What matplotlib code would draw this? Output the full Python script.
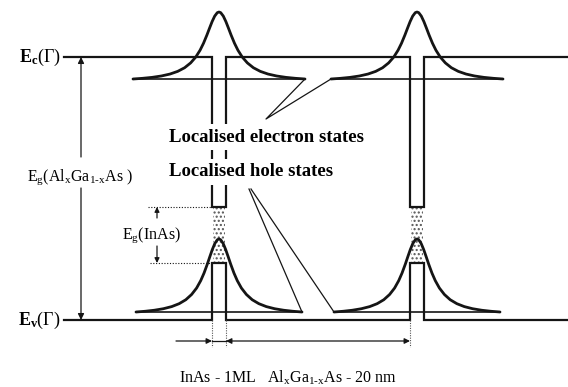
import matplotlib
matplotlib.use('Agg')
import matplotlib.pyplot as plt
from matplotlib.patches import Rectangle

plt.rcParams['mathtext.fontset'] = 'custom'
plt.rcParams['mathtext.rm'] = 'Liberation Serif'
plt.rcParams['mathtext.it'] = 'Liberation Serif:italic'
plt.rcParams['mathtext.bf'] = 'Liberation Serif:bold'
plt.rcParams['hatch.linewidth'] = 1.0

# ---- schematic values (drawing units = picture pixels) ----
well_left = [212, 410]          # InAs monolayer wells (left edges)
well_width = 14
band_x_range = [64, 568]
Ec_level = 57                   # conduction band edge E_c(Gamma)
Ev_level = 320                  # valence band edge E_v(Gamma)
cb_well_bottom = 207            # InAs conduction band in the well
vb_well_top = 263               # InAs valence band in the well
e_level, e_peak, e_half = 79, 12, 86    # localised electron states
h_level, h_peak, h_half = 312, 239, 83  # localised hole states
# half profile of the localisation peaks (offset fraction, height fraction)
profile_u = [0, .02, .05, .08, .11, .14, .18, .22, .27, .33, .40, .48, .57, .67, .78, .89, 1.0]
profile_f = [1, .99, .939, .857, .759, .658, .534, .43, .328, .24, .168, .114, .074, .045, .024, .01, 0]

INK = '#151515'
fig = plt.figure(figsize=(5.68, 3.87), dpi=100)
ax = fig.add_axes([0, 0, 1, 1])
ax.set_xlim(0, 568)
ax.set_ylim(387, 0)
ax.axis('off')

# ---- band edges ----
cx, cy, vx, vy = [band_x_range[0]], [Ec_level], [band_x_range[0]], [Ev_level]
for wl in well_left:
    wr = wl + well_width
    cx += [wl, wl, wr, wr]
    cy += [Ec_level, cb_well_bottom, cb_well_bottom, Ec_level]
    vx += [wl, wl, wr, wr]
    vy += [Ev_level, vb_well_top, vb_well_top, Ev_level]
cx.append(band_x_range[1]); cy.append(Ec_level)
vx.append(band_x_range[1]); vy.append(Ev_level)
ax.plot(cx, cy, color=INK, lw=1.6, zorder=2, solid_joinstyle='miter')
ax.plot(vx, vy, color=INK, lw=1.6, zorder=2, solid_joinstyle='miter')

# stippled InAs gap
for wl in well_left:
    ax.add_patch(Rectangle((wl + 1, cb_well_bottom + 1), well_width - 2, vb_well_top - cb_well_bottom - 2,
                           facecolor='none', edgecolor='#555555', linewidth=0, hatch='....', zorder=1))

# ---- localisation peaks and levels ----
def peak(center, level, top, half):
    xs = [center - u * half for u in profile_u[::-1]] + [center + u * half for u in profile_u[1:]]
    fs = profile_f[::-1] + profile_f[1:]
    ys = [level - f * (level - top) for f in fs]
    return xs, ys

for wl in well_left:
    c = wl + well_width / 2
    for lev, top, half in [(e_level, e_peak, e_half), (h_level, h_peak, h_half)]:
        xs, ys = peak(c, lev, top, half)
        ax.plot(xs, ys, color=INK, lw=2.0, zorder=4, solid_capstyle='round')
        ax.plot([c - half, c + half], [lev, lev], color=INK, lw=1.2, zorder=3)

c0 = well_left[0] + well_width / 2
c1 = well_left[1] + well_width / 2
# electron callout
ax.plot([c0 + e_half, 266, c1 - e_half], [e_level, 119, e_level], color=INK, lw=0.9, zorder=6)
# hole callout
ax.plot([c0 + h_half, 249], [h_level, 189], color=INK, lw=0.9, zorder=6)
ax.plot([c1 - h_half, 251], [h_level, 189], color=INK, lw=0.9, zorder=6)

# ---- texts ----
bb = dict(facecolor='white', edgecolor='none', pad=3)
ax.text(169, 137, 'Localised electron states', family='Liberation Serif', weight='bold',
        fontsize=13.5, ha='left', va='center', bbox=bb, zorder=5)
ax.text(169, 172, 'Localised hole states', family='Liberation Serif', weight='bold',
        fontsize=13.5, ha='left', va='center', bbox=bb, zorder=5)

ax.text(61, Ec_level, r'$\mathbf{E_c}(\Gamma)$', fontsize=13, ha='right', va='center')
ax.text(61, Ev_level, r'$\mathbf{E_v}(\Gamma)$', fontsize=13, ha='right', va='center')

ax.text(80, 177, r'E$_\mathrm{g}$(Al$_\mathrm{x}$Ga$_\mathrm{1\text{-}x}$As )', family='Liberation Serif',
        fontsize=11.5, ha='center', va='center')
ax.text(151, 235, r'E$_\mathrm{g}$(InAs)', family='Liberation Serif', fontsize=11.5,
        ha='center', va='center')
ax.text(288, 378, r'InAs - 1ML   Al$_\mathrm{x}$Ga$_\mathrm{1\text{-}x}$As - 20 nm',
        family='Liberation Serif', fontsize=11.5, ha='center', va='center')

# ---- arrows ----
ap = dict(arrowstyle='-|>', color=INK, lw=0.9, mutation_scale=9, shrinkA=0, shrinkB=0)
ax.annotate('', xy=(81, Ec_level), xytext=(81, 157), arrowprops=ap)
ax.annotate('', xy=(81, Ev_level), xytext=(81, 188), arrowprops=ap)
ax.annotate('', xy=(157, cb_well_bottom), xytext=(157, 218), arrowprops=dict(ap, mutation_scale=7))
ax.annotate('', xy=(157, vb_well_top), xytext=(157, 246), arrowprops=dict(ap, mutation_scale=7))

# dotted guides for E_g(InAs)
ax.plot([148, well_left[0]], [cb_well_bottom, cb_well_bottom], color=INK, lw=0.8, ls=(0, (1, 1.5)))
ax.plot([150, well_left[0]], [vb_well_top, vb_well_top], color=INK, lw=0.8, ls=(0, (1, 1.5)))

# thickness markers
dim_y = 341
for xg in [well_left[0], well_left[0] + well_width, well_left[1]]:
    ax.plot([xg, xg], [Ev_level, 347], color='#555555', lw=0.8, ls=(0, (1, 1.2)))
ax.annotate('', xy=(well_left[0], dim_y), xytext=(176, dim_y), arrowprops=dict(ap, mutation_scale=8))
ax.plot([well_left[0], well_left[0] + well_width], [dim_y, dim_y], color=INK, lw=0.9)
ax.annotate('', xy=(well_left[1], dim_y), xytext=(well_left[0] + well_width, dim_y),
            arrowprops=dict(arrowstyle='<|-|>', color=INK, lw=0.9, mutation_scale=8, shrinkA=0, shrinkB=0))

fig.savefig('out.png', dpi=100, facecolor='white')
